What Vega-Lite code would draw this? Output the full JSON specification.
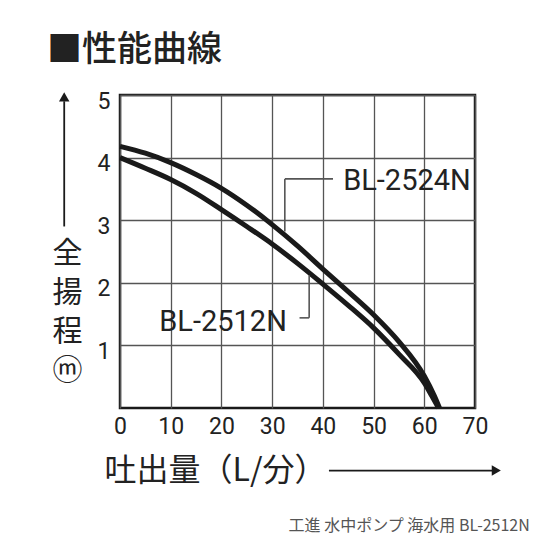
{
  "$schema": "https://vega.github.io/schema/vega-lite/v6.json",
  "width": 355,
  "height": 313,
  "autosize": {"type": "none"},
  "padding": {"left": 120, "top": 95, "right": 65, "bottom": 132},
  "background": "white",
  "config": {
    "view": {"stroke": "#1a1a1a", "strokeWidth": 2.5},
    "axis": {
      "grid": true,
      "gridColor": "#555555",
      "gridWidth": 1.3,
      "domain": false,
      "ticks": false,
      "labelFont": "Roboto",
      "labelFontSize": 23,
      "labelColor": "#222222",
      "labelFlush": false,
      "labelOverlap": false,
      "titleFont": "Noto Sans CJK JP",
      "titleFontWeight": "normal",
      "titleColor": "#222222"
    }
  },
  "title": {
    "text": "■性能曲線",
    "anchor": "start",
    "frame": "group",
    "dx": -73,
    "offset": 22,
    "font": "Noto Sans CJK JP",
    "fontSize": 35,
    "fontWeight": 500,
    "color": "#222222"
  },
  "encoding": {
    "x": {
      "field": "flow",
      "type": "quantitative",
      "scale": {"domain": [0, 70], "nice": false, "zero": false},
      "axis": {
        "title": "吐出量（L/分）",
        "values": [0, 10, 20, 30, 40, 50, 60, 70],
        "labelPadding": 7,
        "titleFontSize": 32,
        "titleX": -16,
        "titleY": 62,
        "titleAlign": "left",
        "titleBaseline": "middle"
      }
    },
    "y": {
      "field": "head",
      "type": "quantitative",
      "scale": {"domain": [0, 5], "nice": false, "zero": false},
      "axis": {
        "title": ["全", "揚", "程", "ⓜ"],
        "values": [1, 2, 3, 4, 5],
        "labelPadding": 10,
        "labelOffset": 6,
        "titleFontSize": 30,
        "titleLineHeight": 39,
        "titleAngle": 0,
        "titleX": -53,
        "titleY": 143,
        "titleAlign": "center",
        "titleBaseline": "top"
      }
    }
  },
  "layer": [
    {
      "data": {
        "values": [
          {"model": "BL-2524N", "flow": 0, "head": 4.18},
          {"model": "BL-2524N", "flow": 5, "head": 4.07},
          {"model": "BL-2524N", "flow": 10, "head": 3.92},
          {"model": "BL-2524N", "flow": 15, "head": 3.73},
          {"model": "BL-2524N", "flow": 20, "head": 3.51},
          {"model": "BL-2524N", "flow": 25, "head": 3.24},
          {"model": "BL-2524N", "flow": 30, "head": 2.93},
          {"model": "BL-2524N", "flow": 35, "head": 2.59},
          {"model": "BL-2524N", "flow": 40, "head": 2.22},
          {"model": "BL-2524N", "flow": 45, "head": 1.86},
          {"model": "BL-2524N", "flow": 50, "head": 1.49},
          {"model": "BL-2524N", "flow": 55, "head": 1.06},
          {"model": "BL-2524N", "flow": 60, "head": 0.51},
          {"model": "BL-2524N", "flow": 62, "head": 0.19},
          {"model": "BL-2524N", "flow": 63, "head": 0},
          {"model": "BL-2512N", "flow": 0, "head": 4.0},
          {"model": "BL-2512N", "flow": 5, "head": 3.83},
          {"model": "BL-2512N", "flow": 10, "head": 3.65},
          {"model": "BL-2512N", "flow": 15, "head": 3.43},
          {"model": "BL-2512N", "flow": 20, "head": 3.17},
          {"model": "BL-2512N", "flow": 25, "head": 2.9},
          {"model": "BL-2512N", "flow": 30, "head": 2.62},
          {"model": "BL-2512N", "flow": 35, "head": 2.31},
          {"model": "BL-2512N", "flow": 40, "head": 1.98},
          {"model": "BL-2512N", "flow": 45, "head": 1.64},
          {"model": "BL-2512N", "flow": 50, "head": 1.28},
          {"model": "BL-2512N", "flow": 55, "head": 0.86},
          {"model": "BL-2512N", "flow": 60, "head": 0.4},
          {"model": "BL-2512N", "flow": 61.5, "head": 0.19},
          {"model": "BL-2512N", "flow": 62.8, "head": 0}
        ]
      },
      "mark": {"type": "line", "interpolate": "monotone", "strokeWidth": 5, "color": "#1a1a1a"},
      "encoding": {
        "detail": {"field": "model", "type": "nominal"}
      }
    },
    {
      "data": {
        "values": [
          {"flow": 32.5, "head": 3.66, "flow2": 42.0, "head2": 3.66},
          {"flow": 32.5, "head": 3.66, "flow2": 32.5, "head2": 2.82},
          {"flow": 37.3, "head": 2.12, "flow2": 37.3, "head2": 1.44},
          {"flow": 35.4, "head": 1.44, "flow2": 37.3, "head2": 1.44}
        ]
      },
      "mark": {"type": "rule", "strokeWidth": 1.6, "color": "#555555"},
      "encoding": {
        "x2": {"field": "flow2"},
        "y2": {"field": "head2"}
      }
    },
    {
      "data": {
        "values": [
          {"flow": 44.0, "head": 3.63, "label": "BL-2524N"}
        ]
      },
      "mark": {"type": "text", "align": "left", "baseline": "middle", "fontSize": 29, "font": "Roboto", "color": "#222222"},
      "encoding": {"text": {"field": "label"}}
    },
    {
      "data": {
        "values": [
          {"flow": 32.9, "head": 1.38, "label": "BL-2512N"}
        ]
      },
      "mark": {"type": "text", "align": "right", "baseline": "middle", "fontSize": 29, "font": "Roboto", "color": "#222222"},
      "encoding": {"text": {"field": "label"}}
    },
    {
      "data": {
        "values": [
          {"flow": -11, "head": 2.9, "flow2": -11, "head2": 4.9},
          {"flow": 41.2, "head": -1.0, "flow2": 73.5, "head2": -1.0}
        ]
      },
      "mark": {"type": "rule", "strokeWidth": 1.8, "color": "#1a1a1a"},
      "encoding": {
        "x2": {"field": "flow2"},
        "y2": {"field": "head2"}
      }
    },
    {
      "data": {
        "values": [
          {"flow": -11, "head": 4.97, "dir": "up"},
          {"flow": 74.2, "head": -1.0, "dir": "right"}
        ]
      },
      "mark": {"type": "point", "filled": true, "size": 110, "opacity": 1, "color": "#1a1a1a"},
      "encoding": {
        "shape": {
          "field": "dir",
          "type": "nominal",
          "scale": {"domain": ["up", "right"], "range": ["triangle-up", "triangle-right"]},
          "legend": null
        }
      }
    },
    {
      "data": {
        "values": [
          {"flow": 80.8, "head": -1.89, "label": "工進 水中ポンプ 海水用 BL-2512N"}
        ]
      },
      "mark": {"type": "text", "align": "right", "baseline": "middle", "fontSize": 16, "font": "Noto Sans CJK JP", "color": "#555555"},
      "encoding": {"text": {"field": "label"}}
    }
  ]
}
